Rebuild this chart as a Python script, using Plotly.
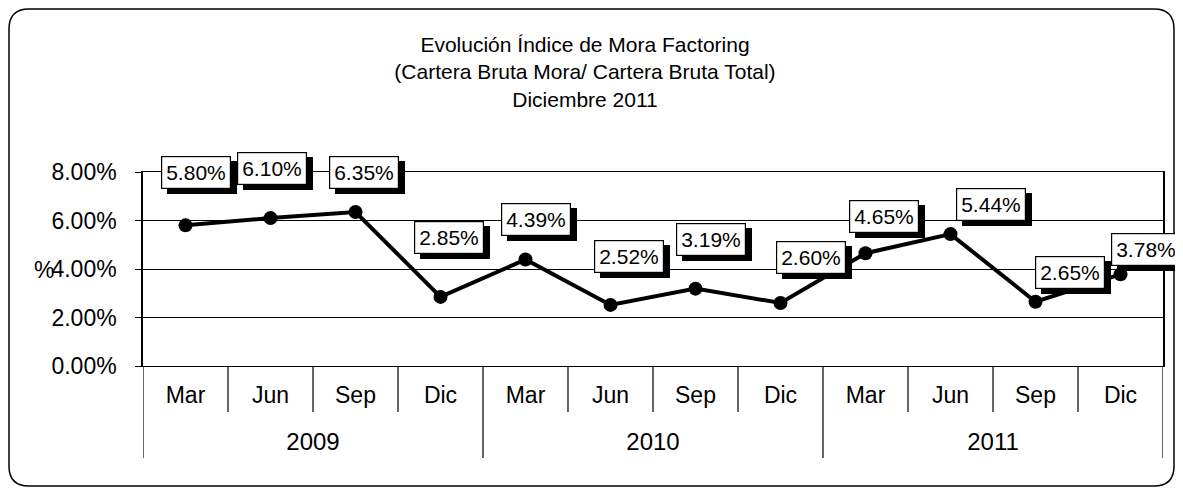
import plotly.graph_objects as go

years = ["2009"] * 4 + ["2010"] * 4 + ["2011"] * 4
months = ["Mar", "Jun", "Sep", "Dic"] * 3
values = [5.80, 6.10, 6.35, 2.85, 4.39, 2.52, 3.19, 2.60, 4.65, 5.44, 2.65, 3.78]
labels = ["5.80%", "6.10%", "6.35%", "2.85%", "4.39%", "2.52%", "3.19%", "2.60%",
          "4.65%", "5.44%", "2.65%", "3.78%"]

# label box offsets (pixels) relative to each point: styling only
label_dx = [10, 1, 8, 8, 10, 18, 15, 30, 18, 40, 34, 25]
label_dy = [53, 50, 40, 59, 40, 48, 49, 45, 37, 30, 29, 25]

# page has an 8px body margin: work in figure pixels = reference pixels - 8
OFF = 8
FW, FH = 1167, 479
L, R, T, B = 143 - OFF, 1163 - OFF, 172 - OFF, 366 - OFF
PW, PH = R - L, B - T


def px(x):
    return (x - OFF - L) / PW


def py(y):
    return (B - (y - OFF)) / PH


FONT = "Liberation Sans, Arial, sans-serif"

year_text = [f"<br><span style='font-size:24px'>{y}</span>" for y in years]
month_text = [f"<span style='font-size:23px'>{m}</span>" for m in months]

fig = go.Figure()
fig.add_trace(go.Scatter(
    x=[year_text, month_text], y=[v / 100 for v in values],
    mode="lines+markers",
    line=dict(color="black", width=4),
    marker=dict(color="black", size=14),
    hoverinfo="skip", showlegend=False,
))

annotations = []
for i, (v, t) in enumerate(zip(values, labels)):
    # shadow
    annotations.append(dict(
        x=i, y=v / 100, xref="x", yref="y", text=t, showarrow=False,
        xshift=label_dx[i] + 6, yshift=label_dy[i] - 5,
        font=dict(family=FONT, size=21, color="black"),
        bgcolor="black", bordercolor="black", borderwidth=1, borderpad=4,
    ))
    annotations.append(dict(
        x=i, y=v / 100, xref="x", yref="y", text=t, showarrow=False,
        xshift=label_dx[i], yshift=label_dy[i],
        font=dict(family=FONT, size=21, color="black"),
        bgcolor="white", bordercolor="black", borderwidth=1.2, borderpad=4,
    ))

annotations.append(dict(
    x=px(44), y=py(270), xref="paper", yref="paper", text="%", showarrow=False,
    font=dict(family=FONT, size=23, color="black"), xanchor="center", yanchor="middle",
))

shapes = []
# month separators and year separators in category table
for k in range(13):
    xb = k - 0.5
    long = k % 4 == 0
    shapes.append(dict(
        type="line", xref="x", yref="paper", x0=xb, x1=xb,
        y0=0, y1=py(458) if long else py(412),
        line=dict(color="black", width=1.2),
    ))

# rounded outer frame
x0, x1, y0, y1 = px(9), px(1174), py(9), py(486)
rx, ry = 20 / PW, 20 / PH
path = (f"M {x0 + rx},{y0} L {x1 - rx},{y0} Q {x1},{y0} {x1},{y0 - ry} "
        f"L {x1},{y1 + ry} Q {x1},{y1} {x1 - rx},{y1} "
        f"L {x0 + rx},{y1} Q {x0},{y1} {x0},{y1 + ry} "
        f"L {x0},{y0 - ry} Q {x0},{y0} {x0 + rx},{y0} Z")
shapes.append(dict(type="path", xref="paper", yref="paper", path=path,
                   line=dict(color="black", width=1.5), layer="below"))

fig.update_layout(
    width=FW, height=FH,
    margin=dict(l=L, r=FW - R, t=T, b=FH - B, autoexpand=False),
    paper_bgcolor="white", plot_bgcolor="white",
    font=dict(family=FONT, size=18, color="black"),
    title=dict(
        text="Evolución Índice de Mora Factoring<br>(Cartera Bruta Mora/ Cartera Bruta Total)<br>Diciembre 2011",
        x=(585 - OFF) / FW, xanchor="center", y=1 - (52 - OFF) / FH, yanchor="middle",
        font=dict(family=FONT, size=21, color="black"),
    ),
    xaxis=dict(
        type="multicategory", range=[-0.5, 11.5], showgrid=False,
        ticks="", ticklabelstandoff=10,
        showline=True, linecolor="black", linewidth=1, mirror=True,
        showdividers=False,
        tickfont=dict(family=FONT, size=22, color="black"),
    ),
    yaxis=dict(
        range=[0, 0.08], dtick=0.02, tickformat=".2%",
        showgrid=True, gridcolor="black", gridwidth=1,
        showline=True, linecolor="black", linewidth=1.5, mirror=True,
        ticks="outside", ticklen=6, tickcolor="black",
        ticklabelstandoff=14,
        tickfont=dict(family=FONT, size=23, color="black"),
        zeroline=False,
    ),
    annotations=annotations,
    shapes=shapes,
)

fig.write_html("out.html")
